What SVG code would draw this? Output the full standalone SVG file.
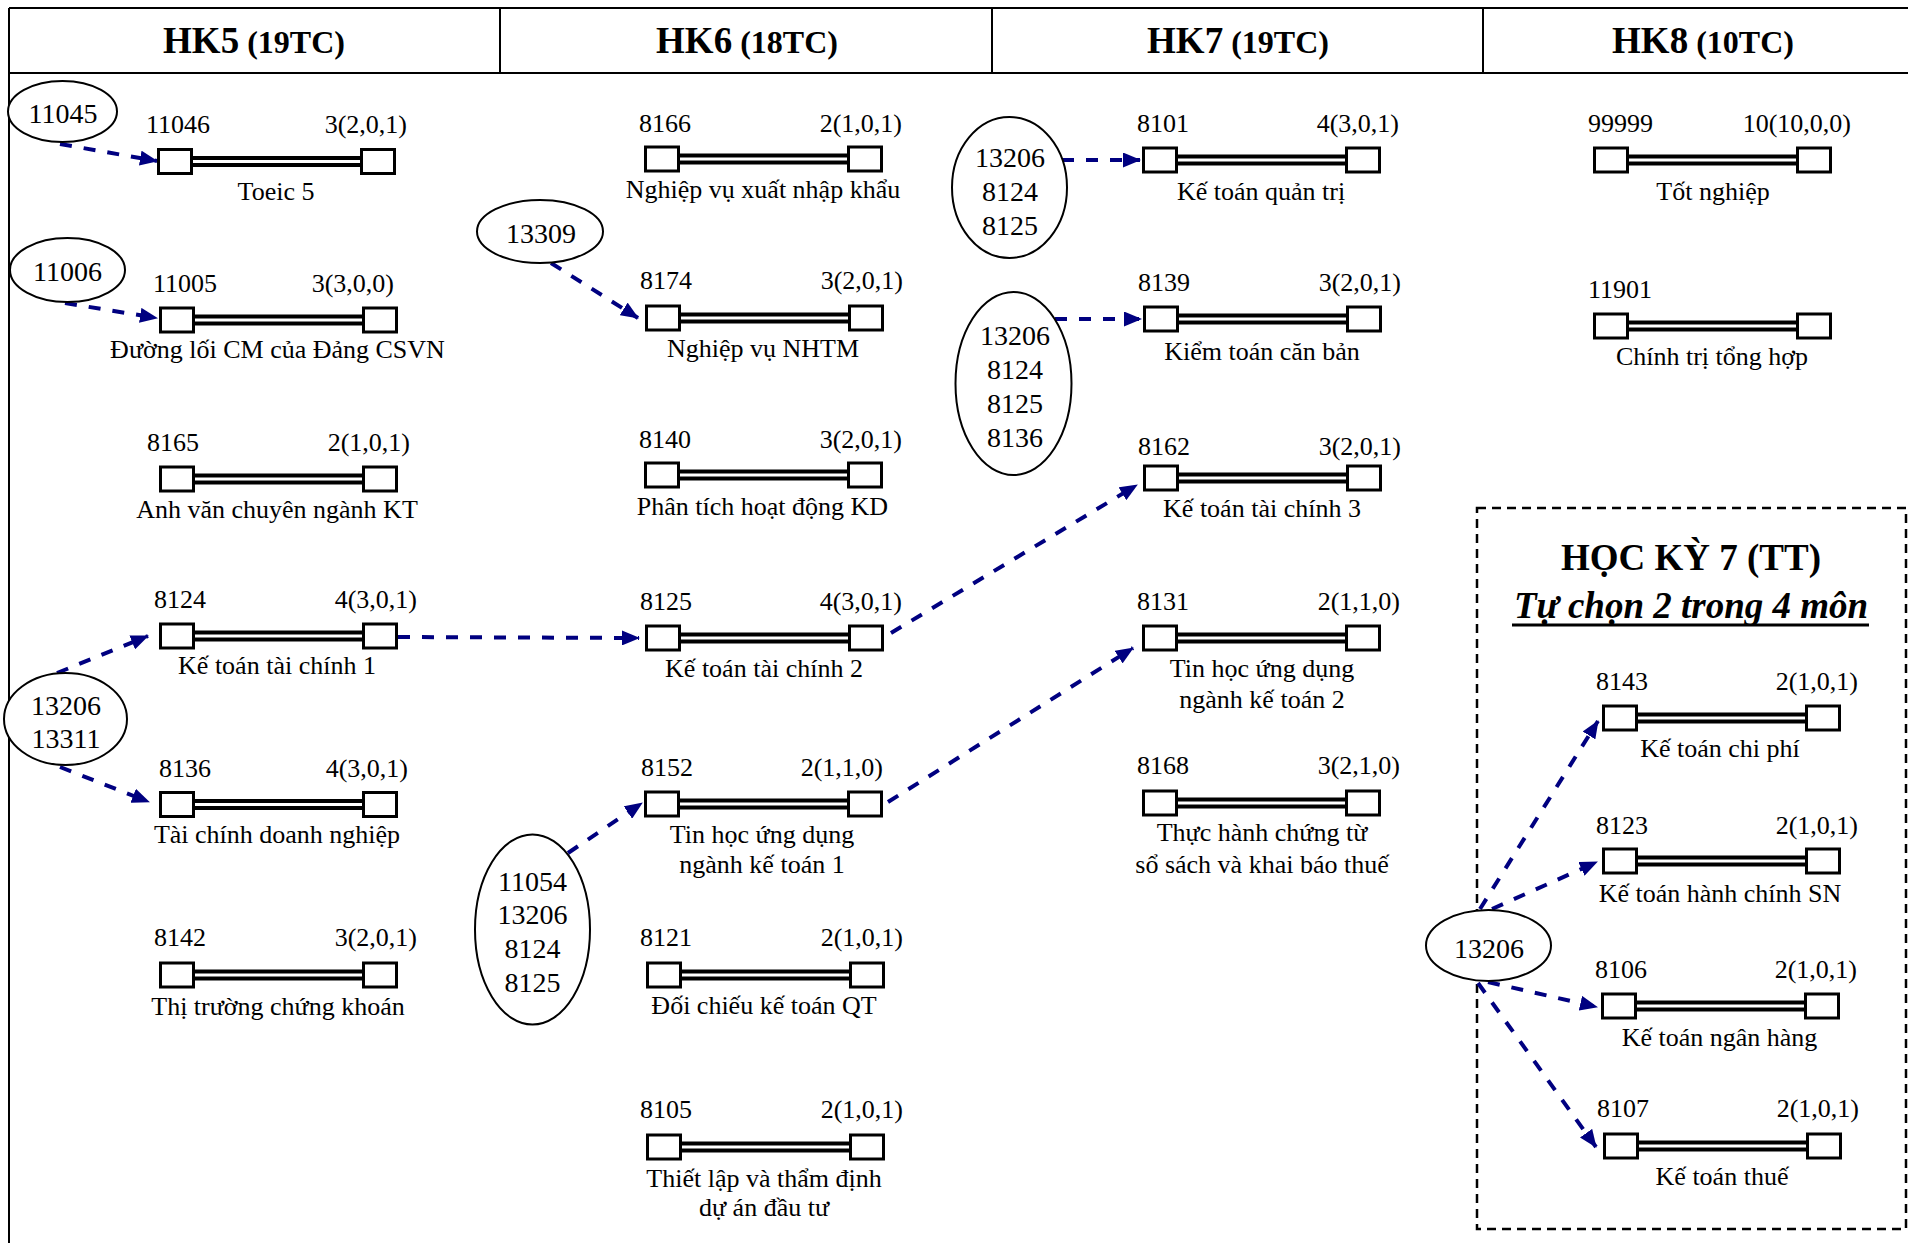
<svg xmlns="http://www.w3.org/2000/svg" xmlns:xlink="http://www.w3.org/1999/xlink" width="1908" height="1243" viewBox="0 0 1908 1243">
<style>
text{font-family:"Liberation Serif","Times New Roman",serif;fill:#000}
.hd{font-weight:bold;text-anchor:middle}
.lb{font-size:26px}
.cr{font-size:26px;text-anchor:end}
.nm{font-size:26px;text-anchor:middle}
.el{font-size:28px;text-anchor:middle}
.frame{stroke:#000;stroke-width:2;fill:none}
.ell{fill:#fff;stroke:#000;stroke-width:2}
.sq{fill:#fff;stroke:#000;stroke-width:3}
.edge{fill:none;stroke:#000080;stroke-width:4;stroke-dasharray:12 12;marker-end:url(#arr)}
</style>
<defs>
<marker id="arr" markerUnits="userSpaceOnUse" markerWidth="18" markerHeight="15" refX="17" refY="7.5" orient="auto">
<path d="M0,0 L18,7.5 L0,15 z" fill="#000080"/>
</marker>
<g id="course">
<line x1="34" y1="0" x2="205" y2="0" stroke="#000" stroke-width="11"/>
<line x1="34" y1="0" x2="205" y2="0" stroke="#fff" stroke-width="3"/>
<rect class="sq" x="1.5" y="-12" width="33" height="24"/>
<rect class="sq" x="204.5" y="-12" width="33" height="24"/>
</g>
</defs>
<rect width="1908" height="1243" fill="#fff"/>
<g id="frame">
<line class="frame" x1="9" y1="8" x2="1908" y2="8"/>
<line class="frame" x1="9" y1="73" x2="1908" y2="73"/>
<line class="frame" x1="9" y1="8" x2="9" y2="1243"/>
<line class="frame" x1="500" y1="8" x2="500" y2="73"/>
<line class="frame" x1="992" y1="8" x2="992" y2="73"/>
<line class="frame" x1="1483" y1="8" x2="1483" y2="73"/>
<text class="hd" x="254" y="53"><tspan font-size="37">HK5</tspan><tspan font-size="32"> (19TC)</tspan></text>
<text class="hd" x="747" y="53"><tspan font-size="37">HK6</tspan><tspan font-size="32"> (18TC)</tspan></text>
<text class="hd" x="1238" y="53"><tspan font-size="37">HK7</tspan><tspan font-size="32"> (19TC)</tspan></text>
<text class="hd" x="1703" y="53"><tspan font-size="37">HK8</tspan><tspan font-size="32"> (10TC)</tspan></text>
</g>
<g id="elective-box">
<rect x="1477" y="508" width="429" height="721" fill="none" stroke="#000" stroke-width="2.5" stroke-dasharray="9 6"/>
<text class="hd" x="1691" y="570" font-size="37">HỌC KỲ 7 (TT)</text>
<text class="hd" x="1691" y="618" font-size="37" font-style="italic">Tự chọn 2 trong 4 môn</text>
<line x1="1512" y1="625" x2="1869" y2="625" stroke="#000" stroke-width="3"/>
</g>
<g id="connectors">
<path class="edge" d="M60,144 L157,161"/>
<path class="edge" d="M65,303 L157,318"/>
<path class="edge" d="M57,673 L148,636"/>
<path class="edge" d="M60,767 L149,802"/>
<path class="edge" d="M398,637 L639,638"/>
<path class="edge" d="M891,633 L1137,485"/>
<path class="edge" d="M888,802 L1133,648"/>
<path class="edge" d="M568,853 L642,803"/>
<path class="edge" d="M551,263 L638,318"/>
<path class="edge" d="M1062,160 L1140,160"/>
<path class="edge" d="M1055,319 L1141,319"/>
<path class="edge" d="M1480,909 L1598,721"/>
<path class="edge" d="M1492,909 L1597,862"/>
<path class="edge" d="M1488,982 L1597,1007"/>
<path class="edge" d="M1478,983 L1596,1147"/>
</g>
<g id="p11045"><ellipse class="ell" cx="62.5" cy="111.5" rx="54.5" ry="30.5"/><text class="el" x="63" y="123">11045</text></g>
<g id="p11006"><ellipse class="ell" cx="67.5" cy="270" rx="57.5" ry="32"/><text class="el" x="67.5" y="281">11006</text></g>
<g id="p13206-13311"><ellipse class="ell" cx="65.5" cy="719" rx="61.5" ry="46"/><text class="el" x="66" y="715">13206</text><text class="el" x="66" y="748">13311</text></g>
<g id="p13309"><ellipse class="ell" cx="540" cy="231.5" rx="63" ry="31.5"/><text class="el" x="541" y="243">13309</text></g>
<g id="p11054"><ellipse class="ell" cx="532.5" cy="929.5" rx="57.5" ry="95"/><text class="el" x="532.5" y="891">11054</text><text class="el" x="532.5" y="924">13206</text><text class="el" x="532.5" y="958">8124</text><text class="el" x="532.5" y="992">8125</text></g>
<g id="p8101pre"><ellipse class="ell" cx="1009.5" cy="187.5" rx="57.5" ry="70.5"/><text class="el" x="1010" y="167">13206</text><text class="el" x="1010" y="201">8124</text><text class="el" x="1010" y="235">8125</text></g>
<g id="p8139pre"><ellipse class="ell" cx="1013.5" cy="383.5" rx="58" ry="91.5"/><text class="el" x="1015" y="345">13206</text><text class="el" x="1015" y="379">8124</text><text class="el" x="1015" y="413">8125</text><text class="el" x="1015" y="447">8136</text></g>
<g id="p13206box"><ellipse class="ell" cx="1488.5" cy="945.5" rx="62.5" ry="35.5"/><text class="el" x="1489" y="958">13206</text></g>
<g id="n11046"><use xlink:href="#course" transform="translate(157,161.5)"/><text class="lb" x="146" y="133">11046</text><text class="cr" x="407" y="133">3(2,0,1)</text><text class="nm" x="276" y="200">Toeic 5</text></g>
<g id="n11005"><use xlink:href="#course" transform="translate(159,320)"/><text class="lb" x="153" y="292">11005</text><text class="cr" x="394" y="292">3(3,0,0)</text><text class="nm" x="277.5" y="358">Đường lối CM của Đảng CSVN</text></g>
<g id="n8165"><use xlink:href="#course" transform="translate(159,479)"/><text class="lb" x="147" y="451">8165</text><text class="cr" x="410" y="451">2(1,0,1)</text><text class="nm" x="277" y="518">Anh văn chuyên ngành KT</text></g>
<g id="n8124"><use xlink:href="#course" transform="translate(159,636)"/><text class="lb" x="154" y="608">8124</text><text class="cr" x="417" y="608">4(3,0,1)</text><text class="nm" x="277" y="674">Kế toán tài chính 1</text></g>
<g id="n8136"><use xlink:href="#course" transform="translate(159,804.5)"/><text class="lb" x="159" y="777">8136</text><text class="cr" x="408" y="777">4(3,0,1)</text><text class="nm" x="277" y="843">Tài chính doanh nghiệp</text></g>
<g id="n8142"><use xlink:href="#course" transform="translate(159,975)"/><text class="lb" x="154" y="946">8142</text><text class="cr" x="417" y="946">3(2,0,1)</text><text class="nm" x="278" y="1015">Thị trường chứng khoán</text></g>
<g id="n8166"><use xlink:href="#course" transform="translate(644,159)"/><text class="lb" x="639" y="132">8166</text><text class="cr" x="902" y="132">2(1,0,1)</text><text class="nm" x="763" y="198">Nghiệp vụ xuất nhập khẩu</text></g>
<g id="n8174"><use xlink:href="#course" transform="translate(645,318)"/><text class="lb" x="640" y="289">8174</text><text class="cr" x="903" y="289">3(2,0,1)</text><text class="nm" x="763" y="357">Nghiệp vụ NHTM</text></g>
<g id="n8140"><use xlink:href="#course" transform="translate(644,475)"/><text class="lb" x="639" y="448">8140</text><text class="cr" x="902" y="448">3(2,0,1)</text><text class="nm" x="762.5" y="515">Phân tích hoạt động KD</text></g>
<g id="n8125"><use xlink:href="#course" transform="translate(645,638)"/><text class="lb" x="640" y="610">8125</text><text class="cr" x="902" y="610">4(3,0,1)</text><text class="nm" x="764" y="677">Kế toán tài chính 2</text></g>
<g id="n8152"><use xlink:href="#course" transform="translate(644,804)"/><text class="lb" x="641" y="776">8152</text><text class="cr" x="883" y="776">2(1,1,0)</text><text class="nm" x="762" y="843">Tin học ứng dụng</text><text class="nm" x="762" y="873">ngành kế toán 1</text></g>
<g id="n8121"><use xlink:href="#course" transform="translate(646,975)"/><text class="lb" x="640" y="946">8121</text><text class="cr" x="903" y="946">2(1,0,1)</text><text class="nm" x="764" y="1014">Đối chiếu kế toán QT</text></g>
<g id="n8105"><use xlink:href="#course" transform="translate(646,1147)"/><text class="lb" x="640" y="1118">8105</text><text class="cr" x="903" y="1118">2(1,0,1)</text><text class="nm" x="764" y="1187">Thiết lập và thẩm định</text><text class="nm" x="764" y="1216">dự án đầu tư</text></g>
<g id="n8101"><use xlink:href="#course" transform="translate(1142,160)"/><text class="lb" x="1137" y="132">8101</text><text class="cr" x="1399" y="132">4(3,0,1)</text><text class="nm" x="1261" y="200">Kế toán quản trị</text></g>
<g id="n8139"><use xlink:href="#course" transform="translate(1143,319)"/><text class="lb" x="1138" y="291">8139</text><text class="cr" x="1401" y="291">3(2,0,1)</text><text class="nm" x="1262" y="360">Kiểm toán căn bản</text></g>
<g id="n8162"><use xlink:href="#course" transform="translate(1143,478)"/><text class="lb" x="1138" y="455">8162</text><text class="cr" x="1401" y="455">3(2,0,1)</text><text class="nm" x="1262" y="517">Kế toán tài chính 3</text></g>
<g id="n8131"><use xlink:href="#course" transform="translate(1142,638)"/><text class="lb" x="1137" y="610">8131</text><text class="cr" x="1400" y="610">2(1,1,0)</text><text class="nm" x="1262" y="677">Tin học ứng dụng</text><text class="nm" x="1262" y="708">ngành kế toán 2</text></g>
<g id="n8168"><use xlink:href="#course" transform="translate(1142,803)"/><text class="lb" x="1137" y="774">8168</text><text class="cr" x="1400" y="774">3(2,1,0)</text><text class="nm" x="1262" y="841">Thực hành chứng từ</text><text class="nm" x="1262" y="873">sổ sách và khai báo thuế</text></g>
<g id="n99999"><use xlink:href="#course" transform="translate(1593,160)"/><text class="lb" x="1588" y="132">99999</text><text class="cr" x="1851" y="132">10(10,0,0)</text><text class="nm" x="1713" y="200">Tốt nghiệp</text></g>
<g id="n11901"><use xlink:href="#course" transform="translate(1593,326)"/><text class="lb" x="1588" y="298">11901</text><text class="nm" x="1712" y="365">Chính trị tổng hợp</text></g>
<g id="n8143"><use xlink:href="#course" transform="translate(1602,718)"/><text class="lb" x="1596" y="690">8143</text><text class="cr" x="1858" y="690">2(1,0,1)</text><text class="nm" x="1720" y="757">Kế toán chi phí</text></g>
<g id="n8123"><use xlink:href="#course" transform="translate(1602,861)"/><text class="lb" x="1596" y="834">8123</text><text class="cr" x="1858" y="834">2(1,0,1)</text><text class="nm" x="1720" y="902">Kế toán hành chính SN</text></g>
<g id="n8106"><use xlink:href="#course" transform="translate(1601,1006)"/><text class="lb" x="1595" y="978">8106</text><text class="cr" x="1857" y="978">2(1,0,1)</text><text class="nm" x="1719.5" y="1046">Kế toán ngân hàng</text></g>
<g id="n8107"><use xlink:href="#course" transform="translate(1603,1146)"/><text class="lb" x="1597" y="1117">8107</text><text class="cr" x="1859" y="1117">2(1,0,1)</text><text class="nm" x="1722" y="1185">Kế toán thuế</text></g>
</svg>
